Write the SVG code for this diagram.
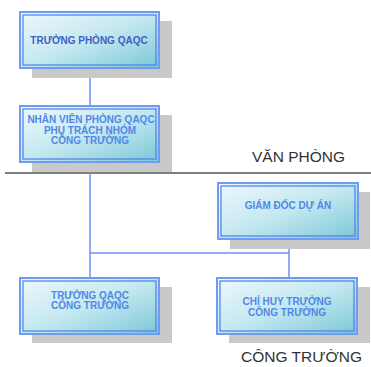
<svg xmlns="http://www.w3.org/2000/svg" width="371" height="367" viewBox="0 0 371 367">
  <defs>
    <linearGradient id="boxFill" x1="0" y1="0" x2="1" y2="1">
      <stop offset="0" stop-color="#eef8fb"/>
      <stop offset="0.5" stop-color="#c4e8f0"/>
      <stop offset="1" stop-color="#7cc7d7"/>
    </linearGradient>
  </defs>
  <style>
    .shadow { fill: #c9c9c9; }
    .box { fill: url(#boxFill); stroke: #6f9cf2; stroke-width: 2; }
    .inner { fill: none; stroke: #4b7fe6; stroke-width: 1.2; }
    .label { font-family: "Liberation Sans", Arial, sans-serif; font-size: 10px; font-weight: bold; fill: #5088e8; text-anchor: middle; }
    .dark { fill: #3e5fc4; }
    .zone { font-family: "Liberation Sans", Arial, sans-serif; font-size: 15.5px; fill: #333; }
    .link { stroke: #6f8ff0; stroke-width: 1.5; fill: none; }
    .divider { stroke: #555; stroke-width: 1.5; }
  </style>

  <!-- divider between office and site -->
  <line class="divider" x1="5" y1="173" x2="371" y2="173"/>
  <text class="zone" x="252" y="162">VĂN PHÒNG</text>
  <text class="zone" x="241" y="362" font-size="15px">CÔNG TRƯỜNG</text>

  <g id="connectors">
    <line class="link" x1="90" y1="68" x2="90" y2="106"/>
    <line class="link" x1="90" y1="162" x2="90" y2="278"/>
    <line class="link" x1="289" y1="239" x2="289" y2="278"/>
    <line class="link" x1="90" y1="253" x2="289" y2="253"/>
  </g>

  <g id="truong-phong-qaqc">
    <rect class="shadow" x="32" y="21" width="140" height="57"/>
    <rect class="box" x="20" y="12" width="139" height="56"/>
    <rect class="inner" x="23" y="15" width="133" height="50"/>
    <text class="label dark" x="89" y="44">TRƯỞNG PHÒNG QAQC</text>
  </g>

  <g id="nhan-vien-qaqc">
    <rect class="shadow" x="32" y="115" width="140" height="57"/>
    <rect class="box" x="20" y="106" width="139" height="56"/>
    <rect class="inner" x="23" y="109" width="133" height="50"/>
    <text class="label" x="91" y="123">NHÂN VIÊN PHÒNG QAQC</text>
    <text class="label" x="90" y="133.5">PHỤ TRÁCH NHÓM</text>
    <text class="label" x="90" y="144">CÔNG TRƯỜNG</text>
  </g>

  <g id="giam-doc-du-an">
    <rect class="shadow" x="230" y="192" width="140" height="57"/>
    <rect class="box" x="218" y="183" width="140" height="56"/>
    <rect class="inner" x="221" y="186" width="134" height="50"/>
    <text class="label" x="288" y="209">GIÁM ĐỐC DỰ ÁN</text>
  </g>

  <g id="truong-qaqc-cong-truong">
    <rect class="shadow" x="32" y="287" width="140" height="56"/>
    <rect class="box" x="20" y="278" width="139" height="56"/>
    <rect class="inner" x="23" y="281" width="133" height="50"/>
    <text class="label" x="90" y="299">TRƯỞNG QAQC</text>
    <text class="label" x="90" y="309">CÔNG TRƯỜNG</text>
  </g>

  <g id="chi-huy-truong">
    <rect class="shadow" x="229" y="287" width="141" height="56"/>
    <rect class="box" x="217" y="278" width="140" height="56"/>
    <rect class="inner" x="220" y="281" width="134" height="50"/>
    <text class="label" x="287" y="305">CHỈ HUY TRƯỞNG</text>
    <text class="label" x="287" y="316">CÔNG TRƯỜNG</text>
  </g>
</svg>
